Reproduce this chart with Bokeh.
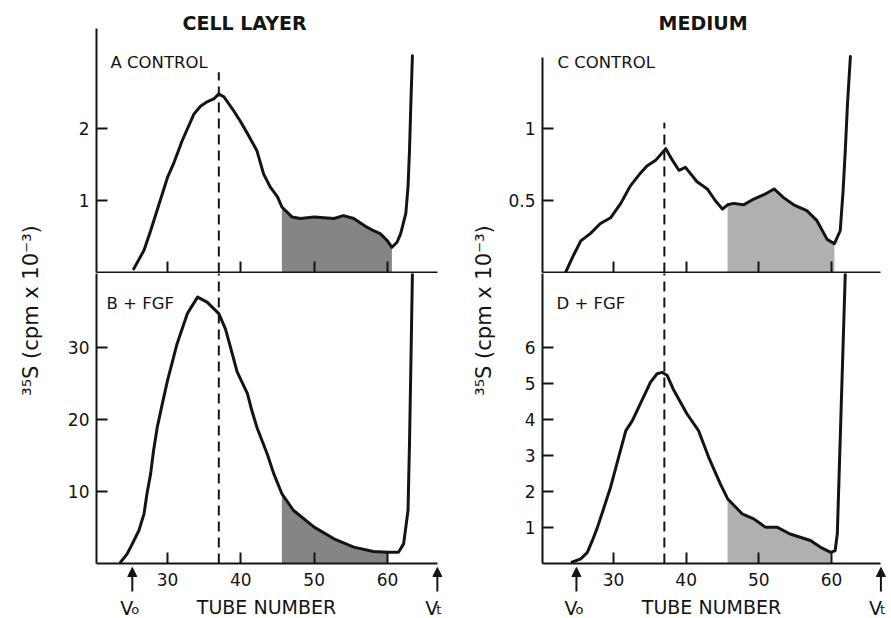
import math
from bokeh.plotting import figure
from bokeh.layouts import row, column
from bokeh.models import FixedTicker, Label, Arrow, NormalHead, Range1d, NumeralTickFormatter
from bokeh.core.properties import value
from bokeh.embed import file_html
from bokeh.resources import INLINE

# ---------------- data ----------------
cell_control_tube = [25.4, 26.8, 27.7, 30.0, 30.9, 32.0, 33.6, 34.5, 35.4, 36.3, 37.0, 37.7,
                     39.0, 40.0, 40.9, 42.2, 43.1, 44.0, 45.0, 45.6, 47.0, 48.1, 50.0, 52.7,
                     54.0, 55.4, 57.2, 58.1, 59.0, 60.0, 60.6, 61.3, 61.8, 62.5, 62.8, 63.0,
                     63.2, 63.4]
cell_control_cpm = [0.05, 0.31, 0.58, 1.32, 1.53, 1.83, 2.20, 2.31, 2.37, 2.41, 2.48, 2.44,
                    2.25, 2.09, 1.93, 1.69, 1.37, 1.19, 1.05, 0.91, 0.77, 0.75, 0.77, 0.75,
                    0.79, 0.75, 0.63, 0.58, 0.54, 0.44, 0.35, 0.42, 0.54, 0.82, 1.19, 1.69,
                    2.39, 3.01]

cell_fgf_tube = [23.6, 24.5, 25.2, 26.1, 26.8, 27.2, 27.7, 28.1, 28.6, 29.3, 30.0, 31.3,
                 32.7, 34.1, 35.4, 37.0, 37.9, 38.6, 39.5, 40.9, 41.5, 42.2, 43.6, 44.5,
                 45.6, 47.2, 50.0, 52.7, 55.4, 58.1, 60.0, 61.5, 62.2, 62.8, 63.0, 63.2, 63.4]
cell_fgf_cpm = [0.18, 1.34, 2.73, 4.58, 6.90, 9.68, 12.45, 15.7, 18.9, 22.2, 25.4, 30.5,
                34.7, 37.0, 36.3, 34.7, 32.6, 30.0, 26.6, 23.6, 21.25, 18.9, 15.2, 12.45,
                9.68, 7.36, 5.05, 3.43, 2.27, 1.67, 1.57, 1.57, 2.73, 7.36, 16.6, 28.2, 40.3]

medium_control_tube = [23.4, 24.5, 25.5, 26.8, 28.2, 29.6, 31.0, 32.3, 33.7, 34.6, 35.8, 37.2,
                       38.1, 39.0, 39.9, 41.5, 42.9, 44.0, 45.0, 45.7, 46.5, 47.9, 49.3, 50.7,
                       52.1, 53.4, 54.8, 56.6, 58.0, 59.4, 60.4, 61.2, 61.6, 61.9, 62.2, 62.6]
medium_control_cpm = [0.00, 0.12, 0.22, 0.27, 0.34, 0.38, 0.48, 0.60, 0.69, 0.74, 0.78, 0.86,
                      0.78, 0.71, 0.73, 0.63, 0.58, 0.50, 0.44, 0.47, 0.48, 0.47, 0.51, 0.54,
                      0.58, 0.52, 0.47, 0.43, 0.36, 0.23, 0.20, 0.29, 0.57, 0.85, 1.17, 1.50]

medium_fgf_tube = [24.3, 25.5, 26.4, 27.1, 27.8, 28.7, 29.6, 30.7, 31.7, 32.6, 33.7, 35.1,
                   36.0, 36.7, 37.4, 38.3, 40.1, 41.7, 43.1, 44.7, 45.7, 47.7, 49.3, 50.9,
                   52.5, 54.3, 55.7, 57.1, 58.5, 59.9, 60.5, 60.8, 61.9]
medium_fgf_cpm = [0.04, 0.13, 0.31, 0.64, 1.01, 1.56, 2.12, 2.95, 3.69, 3.97, 4.44, 5.04,
                  5.27, 5.31, 5.22, 4.81, 4.16, 3.69, 2.95, 2.21, 1.80, 1.38, 1.24, 1.01,
                  1.01, 0.82, 0.73, 0.64, 0.45, 0.31, 0.36, 0.82, 8.08]

tube_ticks = [30, 40, 50, 60]
tube_tick_labels = ["30", "40", "50", "60"]
cell_control_ticks = [1, 2]
cell_fgf_ticks = [10, 20, 30]
medium_control_ticks = [0.5, 1]
medium_fgf_ticks = [1, 2, 3, 4, 5, 6]

peak_tube = 37
shade_cell_control = [45.6, 60.6]
shade_cell_fgf = [45.6, 60.0]
shade_medium_control = [45.7, 60.4]
shade_medium_fgf = [45.7, 59.9]
dash_top = {"A": 2.78, "B": 40.3, "C": 1.04, "D": 8.08}
void_tube_cell = [25.2, 66.8]      # V0, Vt
void_tube_medium = [24.9, 66.8]
void_subscripts = ["o", "t"]

column_titles = ["CELL LAYER", "MEDIUM"]
panel_labels = ["A CONTROL", "B + FGF", "C CONTROL", "D + FGF"]
x_title = "TUBE NUMBER"
y_title = "³⁵S (cpm x 10⁻³)"

# ---------------- style ----------------
FONT = "DejaVu Sans"
INK = "#141414"
FILL_LEFT = "#858585"
FILL_RIGHT = "#b0b0b0"

# ---------------- layout geometry (window pixels) ----------------
LAB_L_W, COL_L_W, LAB_R_W, COL_R_W = 45, 410, 47, 387
TOP_H, BOT_H, STRIP_H = 273, 292, 52
PAGE_H = TOP_H + BOT_H + STRIP_H          # 617
COL_L_X = (LAB_L_W, LAB_L_W + COL_L_W)
COL_R_X = (LAB_L_W + COL_L_W + LAB_R_W, LAB_L_W + COL_L_W + LAB_R_W + COL_R_W)

# plot frames (a little wider than the drawn axis so the V_t marks fit)
L_FRAME = (96, 447)
R_FRAME = (542, 889)
TOP_FRAME = (28, 272)
BOT_FRAME = (273, 563)

PXU_L, PXU_R = 220 / 30.0, 218 / 30.0     # px per tube, from tick spacing
XR_L = (20.32, 20.32 + (L_FRAME[1] - L_FRAME[0]) / PXU_L)
XR_R = (20.23, 20.23 + (R_FRAME[1] - R_FRAME[0]) / PXU_R)
X_AXIS_END = {"L": 66.82, "R": 66.74}
YR = {"A": (0, 244 / 72.0), "B": (0, 290 / 7.2), "C": (0, 244 / 144.0), "D": (0, 290 / 36.0)}

BASE_SHIFT = 5   # alphabetic labels render a little low; compensate


def mapper(xf, yf, xr, yr):
    def fx(X):
        return xr[0] + (X - xf[0]) / (xf[1] - xf[0]) * (xr[1] - xr[0])

    def fy(Y):
        return yr[0] + (yf[1] - Y) / (yf[1] - yf[0]) * (yr[1] - yr[0])
    return fx, fy


def style_axis(ax):
    ax.axis_line_width = 2
    ax.axis_line_color = INK
    ax.major_tick_in = 11
    ax.major_tick_out = 0
    ax.major_tick_line_width = 2
    ax.major_tick_line_color = INK
    ax.minor_tick_line_color = None
    ax.major_label_text_font = FONT
    ax.major_label_text_font_size = "17px"
    ax.major_label_text_color = INK
    ax.major_label_standoff = 7


def blank(p):
    p.outline_line_color = None
    p.xgrid.visible = False
    p.ygrid.visible = False
    p.background_fill_color = "white"
    p.border_fill_color = "white"


def make_panel(width, height, mbl, mbr, mbt, mbb, xr, yr, x_end):
    p = figure(width=width, height=height, x_range=Range1d(*xr), y_range=Range1d(*yr),
               output_backend="svg", toolbar_location=None,
               min_border_left=mbl, min_border_right=mbr,
               min_border_top=mbt, min_border_bottom=mbb)
    blank(p)
    style_axis(p.xaxis[0])
    style_axis(p.yaxis[0])
    xa = p.xaxis[0]
    xa.ticker = FixedTicker(ticks=tube_ticks)
    xa.bounds = (xr[0], x_end)
    xa.major_label_text_font_size = "0px"
    xa.major_label_text_color = None
    xa.major_label_standoff = 0
    p.yaxis[0].formatter = NumeralTickFormatter(format="0.[0]")
    return p


def draw_curve(p, tube, cpm, shade, fill, key):
    sx = [t for t in tube if shade[0] <= t <= shade[1]]
    sy = [c for t, c in zip(tube, cpm) if shade[0] <= t <= shade[1]]
    p.varea(x=sx, y1=[0] * len(sx), y2=sy, fill_color=fill, fill_alpha=1.0)
    p.line(tube, cpm, line_width=3, line_color=INK, line_join="round", line_cap="round")
    p.segment(x0=[peak_tube], y0=[0], x1=[peak_tube], y1=[dash_top[key]],
              line_width=2, line_color=INK, line_dash="10 6")


def text(p, x, y, s, size, bold=False, align="left", baseline="alphabetic"):
    p.add_layout(Label(x=x, y=y, text=s, text_font=FONT, text_font_size=size,
                       text_font_style="bold" if bold else "normal", text_color=INK,
                       text_align=align, text_baseline=baseline))


def top_panel(xf, xr, x_end, key, col_x, tube, cpm, shade, fill, yticks, title, title_left,
              plabel, plabel_x, ybounds=None):
    yr = YR[key]
    width = col_x[1] - col_x[0]
    p = make_panel(width, TOP_H, xf[0] - col_x[0], col_x[1] - xf[1],
                   TOP_FRAME[0], TOP_H - TOP_FRAME[1], xr, yr, x_end)
    fx, fy = mapper(xf, TOP_FRAME, xr, yr)
    p.yaxis[0].ticker = FixedTicker(ticks=yticks)
    if ybounds is not None:
        p.yaxis[0].bounds = ybounds
    draw_curve(p, tube, cpm, shade, fill, key)
    p.title.text = title
    p.title.align = "left"
    p.title.offset = title_left - xf[0]
    p.title.text_font = FONT
    p.title.text_font_size = "19px"
    p.title.text_font_style = "bold"
    p.title.text_color = INK
    p.title.standoff = -10
    text(p, fx(plabel_x), fy(67 - BASE_SHIFT), plabel, "16.5px")
    return p


def bottom_panel(xf, xr, x_end, key, col_x, tube, cpm, shade, fill, yticks, plabel, plabel_x):
    yr = YR[key]
    width = col_x[1] - col_x[0]
    p = make_panel(width, BOT_H, xf[0] - col_x[0], col_x[1] - xf[1],
                   0, BOT_H - (BOT_FRAME[1] - BOT_FRAME[0]), xr, yr, x_end)
    fx, fy = mapper(xf, BOT_FRAME, xr, yr)
    p.yaxis[0].ticker = FixedTicker(ticks=yticks)
    draw_curve(p, tube, cpm, shade, fill, key)
    text(p, fx(plabel_x), fy(308 - BASE_SHIFT), plabel, "16.5px")
    return p


def strip(xf, xr, col_x, voids, title_cx):
    # same horizontal frame as the panels above it; y data == window pixel row
    fx, _ = mapper(xf, (0, 1), xr, (0, 1))
    width = col_x[1] - col_x[0]
    top = TOP_H + BOT_H
    p = figure(width=width, height=STRIP_H, x_range=Range1d(*xr),
               y_range=Range1d(PAGE_H, top), output_backend="svg", toolbar_location=None,
               x_axis_type=None, y_axis_type=None,
               min_border_left=xf[0] - col_x[0], min_border_right=col_x[1] - xf[1],
               min_border_top=0, min_border_bottom=0)
    blank(p)
    p.text(x=tube_ticks, y=[579] * len(tube_ticks), text=tube_tick_labels,
           text_font=value(FONT), text_font_size="17px", text_color=INK,
           text_align="center", text_baseline="middle")
    for v, sub in zip(voids, void_subscripts):
        p.add_layout(Arrow(end=NormalHead(size=9, fill_color=INK, line_color=INK, line_width=1),
                           x_start=v, y_start=591, x_end=v, y_end=567,
                           line_width=2, line_color=INK))
        vpx = xf[0] + (v - xr[0]) / (xr[1] - xr[0]) * (xf[1] - xf[0])
        text(p, fx(vpx + 1), 612 - BASE_SHIFT, "V", "19px", align="right")
        text(p, fx(vpx - 1), 614 - BASE_SHIFT, sub, "13px")
    text(p, fx(title_cx), 611 - BASE_SHIFT, x_title, "19px", align="center")
    return p


def label_fig(width, cx):
    p = figure(width=width, height=PAGE_H, x_range=Range1d(0, width), y_range=Range1d(PAGE_H, 0),
               output_backend="svg", toolbar_location=None, x_axis_type=None, y_axis_type=None,
               min_border=0)
    blank(p)
    p.add_layout(Label(x=cx, y=310, text=y_title, angle=math.pi / 2,
                       text_font=FONT, text_font_size="21px", text_color=INK,
                       text_align="center", text_baseline="middle"))
    return p


# left column: cell layer
pA = top_panel(L_FRAME, XR_L, X_AXIS_END["L"], "A", COL_L_X, cell_control_tube, cell_control_cpm,
               shade_cell_control, FILL_LEFT, cell_control_ticks, column_titles[0], 182,
               panel_labels[0], 110)
pB = bottom_panel(L_FRAME, XR_L, X_AXIS_END["L"], "B", COL_L_X, cell_fgf_tube, cell_fgf_cpm,
                  shade_cell_fgf, FILL_LEFT, cell_fgf_ticks, panel_labels[1], 106)
sL = strip(L_FRAME, XR_L, COL_L_X, void_tube_cell, 266)

# right column: medium
pC = top_panel(R_FRAME, XR_R, X_AXIS_END["R"], "C", COL_R_X, medium_control_tube,
               medium_control_cpm, shade_medium_control, FILL_RIGHT, medium_control_ticks,
               column_titles[1], 658, panel_labels[2], 557, ybounds=(0, 1.49))
pD = bottom_panel(R_FRAME, XR_R, X_AXIS_END["R"], "D", COL_R_X, medium_fgf_tube, medium_fgf_cpm,
                  shade_medium_fgf, FILL_RIGHT, medium_fgf_ticks, panel_labels[3], 556)
sR = strip(R_FRAME, XR_R, COL_R_X, void_tube_medium, 711)

labL = label_fig(LAB_L_W, 30)
labR = label_fig(LAB_R_W, 483 - COL_L_X[1])

layout = row(labL, column(pA, pB, sL), labR, column(pC, pD, sR))

open("out.html", "w").write(file_html(layout, INLINE))
